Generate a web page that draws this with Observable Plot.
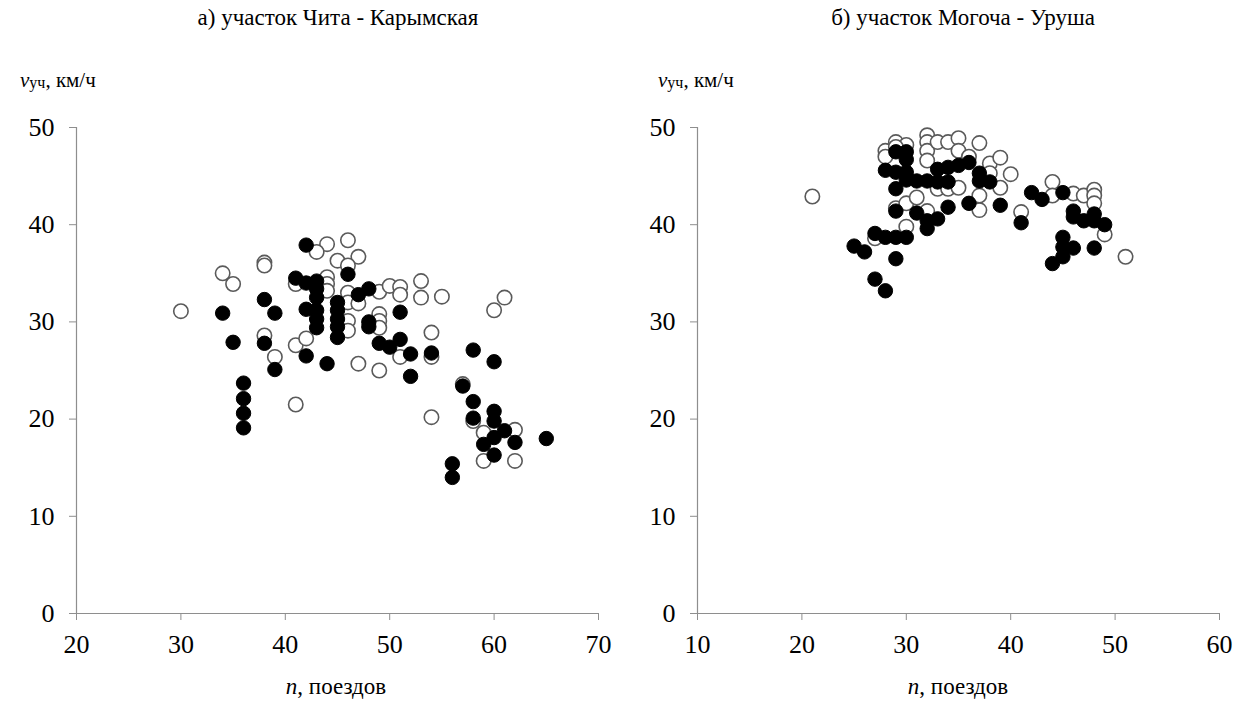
<!DOCTYPE html>
<html>
<head>
<meta charset="utf-8">
<script src="https://cdn.jsdelivr.net/npm/d3@7"></script>
<script src="https://cdn.jsdelivr.net/npm/@observablehq/plot@0.6"></script>
<style>
  html, body { margin: 0; padding: 0; background: #fff; }
  #wrap { position: relative; width: 1235px; height: 705px; overflow: hidden; font-family: "Liberation Serif", Tinos, "Times New Roman", "DejaVu Serif", serif; color: #000; }
  .panel { position: absolute; top: 0; width: 617px; height: 705px; }
  .panel svg { position: absolute; left: 0; top: 0; }
  .title { position: absolute; top: 5px; font-size: 23px; white-space: nowrap; transform: translateX(-50%); }
  .ylab { position: absolute; top: 68px; font-size: 21px; white-space: nowrap; }
  .ylab sub { font-size: 16px; vertical-align: baseline; position: relative; top: 1px; }
  .xlab { position: absolute; top: 674px; font-size: 23px; white-space: nowrap; transform: translateX(-50%); }
</style>
</head>
<body>
<div id="wrap"></div>
<script>
// Section "а": Чита – Карымская. Each pair is [n, v] (trains, km/h).
const chitaOpen = [
  [30,31.1],[34,35.0],[35,33.9],[38,36.1],[38,35.8],[38,28.6],[39,26.4],[41,21.5],[41,27.6],
  [42,28.3],[47,25.7],[44,38.0],[43,37.2],[46,38.4],[45,36.3],[47,36.7],[46,35.8],
  [41,33.9],[44,34.6],[44,33.9],[44,33.2],[46,33.0],[46,32.0],[47,31.9],[46,30.1],
  [46,29.1],[49,30.8],[49,30.1],[49,29.4],[49,33.1],[50,33.7],[51,33.6],[51,32.8],
  [53,34.2],[53,32.5],[55,32.6],[51,26.4],[49,25.0],[54,28.9],[54,26.4],[61,32.5],
  [60,31.2],[54,20.2],[57,23.6],[58,19.8],[59,18.6],[62,18.9],[59,15.7],[62,15.7]
];
const chitaFilled = [
  [34,30.9],[35,27.9],[36,23.7],[36,22.1],[36,20.6],[36,19.1],[38,32.3],[39,30.9],
  [38,27.8],[39,25.1],[42,26.5],[44,25.7],[42,37.9],[46,34.9],[41,34.5],[42,34.0],
  [43,34.2],[43,33.4],[43,32.5],[45,32.0],[45,31.2],[45,30.3],[45,29.5],[45,28.4],
  [42,31.3],[43,31.2],[43,30.3],[43,29.4],[47,32.8],[48,33.4],[48,30.0],[48,29.5],
  [51,31.0],[49,27.8],[50,27.4],[51,28.2],[52,26.7],[52,24.4],[54,26.8],[58,27.1],
  [60,25.9],[57,23.4],[58,21.8],[58,20.1],[60,20.8],[60,19.8],[61,18.8],[60,18.1],
  [59,17.4],[62,17.6],[65,18.0],[60,16.3],[56,15.4],[56,14.0]
];

// Section "б": Могоча – Уруша.
const mogochaOpen = [
  [21,42.9],[27,38.6],[29,41.7],[30,42.2],[31,42.8],[30,39.8],[32,41.4],[37,41.5],
  [37,43.0],[28,47.6],[29,48.5],[30,48.2],[28,47.0],[29,48.0],[32,49.2],[32,48.5],
  [32,47.6],[32,46.6],[33,48.5],[34,48.5],[35,48.9],[35,47.6],[37,48.4],[36,47.0],
  [33,43.7],[34,43.7],[35,43.8],[38,46.3],[38,45.3],[39,46.9],[40,45.2],[39,43.8],
  [41,41.3],[44,44.4],[44,43.0],[46,43.2],[47,43.0],[48,43.6],[48,43.0],[48,42.2],
  [49,39.0],[51,36.7]
];
const mogochaFilled = [
  [25,37.8],[26,37.2],[27,34.4],[28,33.2],[27,39.1],[28,38.7],[29,38.7],[30,38.7],
  [29,36.5],[29,41.4],[31,41.2],[32,40.4],[32,39.6],[33,40.6],[34,41.8],[36,42.2],
  [29,47.5],[30,47.5],[30,46.7],[28,45.6],[29,45.4],[30,45.4],[29,43.7],[30,44.6],
  [31,44.5],[32,44.5],[33,44.4],[34,44.4],[33,45.7],[34,45.9],[35,46.1],[36,46.4],
  [37,45.3],[37,44.5],[38,44.4],[39,42.0],[41,40.2],[42,43.3],[43,42.6],[45,43.3],
  [46,41.4],[46,40.8],[47,40.4],[48,41.1],[48,40.4],[49,40.0],[45,38.7],[45,37.7],
  [46,37.6],[48,37.6],[45,36.7],[44,36.0]
];

const chitaTicksX = [20, 30, 40, 50, 60, 70];
const mogochaTicksX = [10, 20, 30, 40, 50, 60];
const speedTicks = [0, 10, 20, 30, 40, 50];

const titles = ["а) участок Чита - Карымская", "б) участок Могоча - Уруша"];
const xTitle = "поездов";

const axisColor = "#8e8e8e";
const serif = "'Liberation Serif', Tinos, 'Times New Roman', 'DejaVu Serif', serif";

function scatter({openPts, filledPts, xDomain, xTicks, marginLeft, marginRight}) {
  return Plot.plot({
    width: 617,
    height: 705,
    marginLeft,
    marginRight,
    marginTop: 127,
    marginBottom: 92,
    x: {domain: xDomain},
    y: {domain: [0, 50]},
    style: {fontFamily: serif, fontSize: "26px", color: "#000", background: "transparent", overflow: "visible"},
    marks: [
      Plot.ruleX([xDomain[0]], {stroke: axisColor, strokeWidth: 1.2}),
      Plot.ruleY([0], {stroke: axisColor, strokeWidth: 1.2}),
      Plot.axisX({ticks: xTicks, tickFormat: d => String(d), tickSize: 7, tickPadding: 14, stroke: axisColor, fill: "#000", label: null}),
      Plot.axisY({ticks: speedTicks, tickFormat: d => String(d), tickSize: 7, tickPadding: 15, stroke: axisColor, fill: "#000", label: null}),
      Plot.dot(openPts, {x: d => d[0], y: d => d[1], r: 7.2, fill: "#fff", stroke: "#5a5a5a", strokeWidth: 1.6}),
      Plot.dot(filledPts, {x: d => d[0], y: d => d[1], r: 7.2, fill: "#000", stroke: "#000", strokeWidth: 1})
    ]
  });
}

const wrap = document.getElementById("wrap");

function addPanel(left, chart, titleText, titleX, ylabX, xlabX) {
  const p = document.createElement("div");
  p.className = "panel";
  p.style.left = left + "px";
  p.appendChild(chart);

  const t = document.createElement("div");
  t.className = "title";
  t.style.left = titleX + "px";
  t.textContent = titleText;
  p.appendChild(t);

  const yl = document.createElement("div");
  yl.className = "ylab";
  yl.style.left = ylabX + "px";
  yl.innerHTML = "<i>v</i><sub>уч</sub>, км/ч";
  p.appendChild(yl);

  const xl = document.createElement("div");
  xl.className = "xlab";
  xl.style.left = xlabX + "px";
  xl.innerHTML = "<i>n</i>, " + xTitle;
  p.appendChild(xl);

  wrap.appendChild(p);
}

addPanel(0, scatter({openPts: chitaOpen, filledPts: chitaFilled, xDomain: [20, 70], xTicks: chitaTicksX, marginLeft: 76, marginRight: 19}),
  titles[0], 338, 20, 336);
addPanel(618, scatter({openPts: mogochaOpen, filledPts: mogochaFilled, xDomain: [10, 60], xTicks: mogochaTicksX, marginLeft: 79, marginRight: 16}),
  titles[1], 345, 40, 340);
</script>
</body>
</html>
